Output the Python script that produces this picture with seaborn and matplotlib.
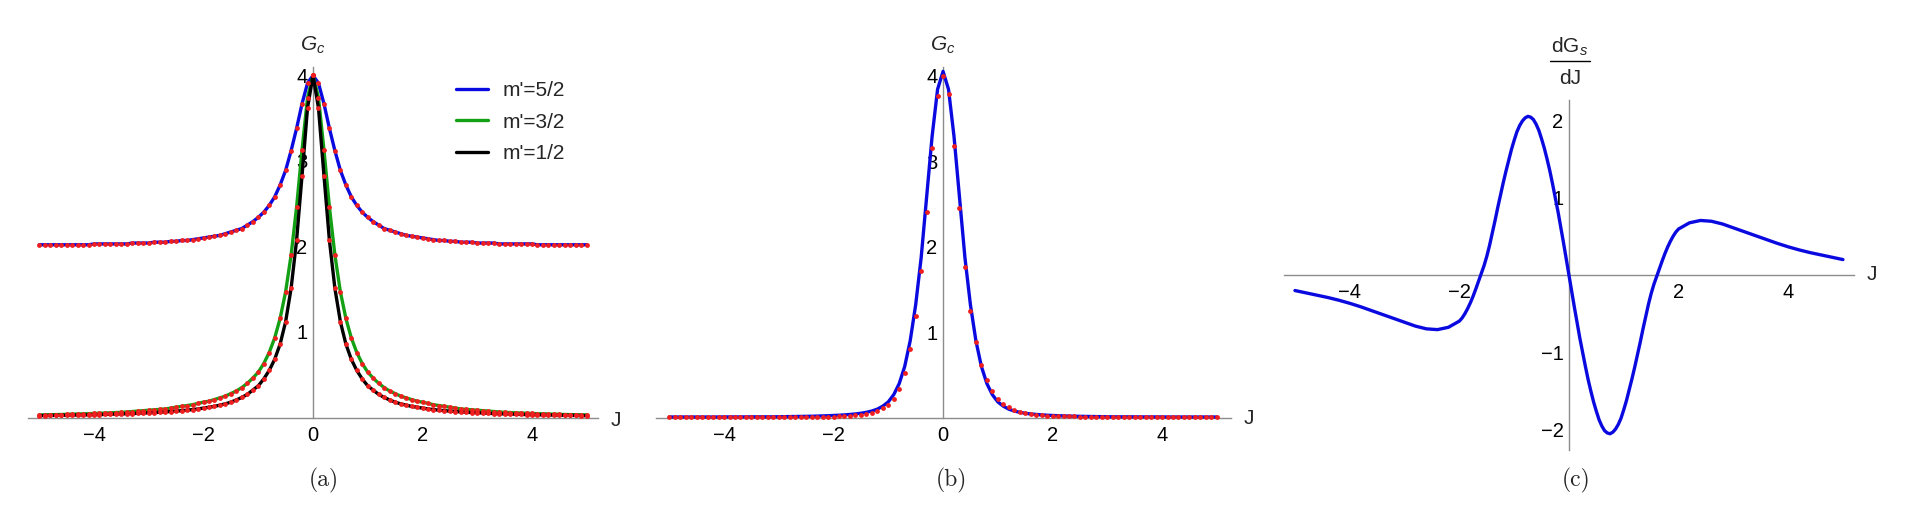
import numpy as np
import seaborn as sns
import matplotlib.pyplot as plt
from matplotlib.lines import Line2D
from matplotlib.ticker import FixedLocator, MultipleLocator

sns.set_style('white')
plt.rcParams['font.family'] = ['Liberation Sans', 'DejaVu Sans']
plt.rcParams['mathtext.fontset'] = 'custom'
plt.rcParams['mathtext.rm'] = 'Liberation Sans'
plt.rcParams['mathtext.it'] = 'Liberation Sans:italic'
plt.rcParams['mathtext.bf'] = 'Liberation Sans:bold'

# sample grid in J (step 0.1) for panels (a) and (b)
J = np.round(np.linspace(-5, 5, 101), 1)

# panel (a): G_c for three m' values (curve and red points share the values)
g_52 = [2.02, 2.02, 2.02, 2.02, 2.02, 2.02, 2.02, 2.02, 2.02, 2.02,
        2.03, 2.03, 2.03, 2.03, 2.03, 2.03, 2.03, 2.04, 2.04, 2.04,
        2.04, 2.05, 2.05, 2.05, 2.06, 2.06, 2.07, 2.07, 2.08, 2.09,
        2.10, 2.11, 2.12, 2.13, 2.15, 2.17, 2.19, 2.21, 2.25, 2.29,
        2.34, 2.40, 2.48, 2.58, 2.72, 2.89, 3.12, 3.38, 3.67, 3.91,
        4.00,
        3.91, 3.67, 3.38, 3.12, 2.89, 2.72, 2.58, 2.48, 2.40, 2.34,
        2.29, 2.25, 2.21, 2.19, 2.17, 2.15, 2.13, 2.12, 2.11, 2.10,
        2.09, 2.08, 2.07, 2.07, 2.06, 2.06, 2.05, 2.05, 2.05, 2.04,
        2.04, 2.04, 2.04, 2.03, 2.03, 2.03, 2.03, 2.03, 2.03, 2.03,
        2.02, 2.02, 2.02, 2.02, 2.02, 2.02, 2.02, 2.02, 2.02, 2.02]

g_32 = [0.03, 0.031, 0.033, 0.034, 0.035, 0.037, 0.039, 0.041, 0.043, 0.045,
        0.047, 0.05, 0.052, 0.055, 0.058, 0.06, 0.065, 0.07, 0.075, 0.08,
        0.085, 0.09, 0.095, 0.10, 0.11, 0.12, 0.13, 0.14, 0.15, 0.165,
        0.18, 0.19, 0.21, 0.23, 0.25, 0.28, 0.31, 0.35, 0.40, 0.46,
        0.53, 0.63, 0.76, 0.93, 1.16, 1.47, 1.90, 2.46, 3.13, 3.74,
        4.00,
        3.74, 3.13, 2.46, 1.90, 1.47, 1.16, 0.93, 0.76, 0.63, 0.53,
        0.46, 0.40, 0.35, 0.31, 0.28, 0.25, 0.23, 0.21, 0.19, 0.18,
        0.165, 0.15, 0.14, 0.13, 0.12, 0.11, 0.10, 0.095, 0.09, 0.085,
        0.08, 0.075, 0.07, 0.065, 0.06, 0.058, 0.055, 0.052, 0.05, 0.047,
        0.045, 0.043, 0.041, 0.039, 0.037, 0.035, 0.034, 0.033, 0.031, 0.03]

g_12 = [0.022, 0.023, 0.024, 0.025, 0.026, 0.027, 0.028, 0.029, 0.03, 0.031,
        0.033, 0.034, 0.036, 0.038, 0.04, 0.042, 0.044, 0.046, 0.049, 0.052,
        0.055, 0.058, 0.061, 0.065, 0.07, 0.075, 0.08, 0.086, 0.093, 0.10,
        0.11, 0.12, 0.13, 0.145, 0.16, 0.18, 0.205, 0.235, 0.27, 0.32,
        0.37, 0.45, 0.55, 0.68, 0.86, 1.12, 1.51, 2.07, 2.83, 3.62,
        4.00,
        3.62, 2.83, 2.07, 1.51, 1.12, 0.86, 0.68, 0.55, 0.45, 0.37,
        0.32, 0.27, 0.235, 0.205, 0.18, 0.16, 0.145, 0.13, 0.12, 0.11,
        0.10, 0.093, 0.086, 0.08, 0.075, 0.07, 0.065, 0.061, 0.058, 0.055,
        0.052, 0.049, 0.046, 0.044, 0.042, 0.04, 0.038, 0.036, 0.034, 0.033,
        0.031, 0.03, 0.029, 0.028, 0.027, 0.026, 0.025, 0.024, 0.023, 0.022]

labels_a = ["m'=5/2", "m'=3/2", "m'=1/2"]
colors_a = ['#0a0ae0', '#14a014', '#000000']

# panel (b): fitted curve and red points
gb_curve = [0.008, 0.008, 0.008, 0.008, 0.008, 0.008, 0.008, 0.008, 0.008, 0.008,
            0.009, 0.009, 0.009, 0.009, 0.009, 0.010, 0.010, 0.010, 0.010, 0.010,
            0.011, 0.012, 0.013, 0.014, 0.015, 0.016, 0.017, 0.019, 0.021, 0.023,
            0.026, 0.029, 0.033, 0.038, 0.044, 0.052, 0.063, 0.078, 0.10, 0.135,
            0.185, 0.27, 0.40, 0.60, 0.90, 1.32, 1.87, 2.58, 3.29, 3.84,
            4.05,
            3.84, 3.29, 2.58, 1.87, 1.32, 0.90, 0.60, 0.40, 0.27, 0.185,
            0.135, 0.10, 0.078, 0.063, 0.052, 0.044, 0.038, 0.033, 0.029, 0.026,
            0.023, 0.021, 0.019, 0.017, 0.016, 0.015, 0.014, 0.013, 0.012, 0.011,
            0.010, 0.010, 0.010, 0.010, 0.010, 0.009, 0.009, 0.009, 0.009, 0.009,
            0.008, 0.008, 0.008, 0.008, 0.008, 0.008, 0.008, 0.008, 0.008, 0.008]

gb_points = [0.012, 0.012, 0.012, 0.012, 0.012, 0.012, 0.012, 0.012, 0.012, 0.012,
             0.012, 0.012, 0.012, 0.012, 0.012, 0.012, 0.012, 0.012, 0.012, 0.012,
             0.012, 0.012, 0.012, 0.012, 0.012, 0.012, 0.012, 0.012, 0.012, 0.013,
             0.013, 0.015, 0.018, 0.022, 0.028, 0.035, 0.045, 0.06, 0.08, 0.11,
             0.15, 0.22, 0.34, 0.52, 0.80, 1.19, 1.72, 2.40, 3.15, 3.76,
             4.00,
             3.78, 3.18, 2.45, 1.76, 1.25, 0.88, 0.62, 0.44, 0.31, 0.22,
             0.16, 0.12, 0.09, 0.07, 0.055, 0.045, 0.037, 0.03, 0.025, 0.02,
             0.018, 0.017, 0.016, 0.015, 0.014, 0.013, 0.013, 0.012, 0.012, 0.012,
             0.012, 0.012, 0.012, 0.012, 0.012, 0.012, 0.012, 0.012, 0.012, 0.012,
             0.012, 0.012, 0.012, 0.012, 0.012, 0.012, 0.012, 0.012, 0.012, 0.012]

# panel (c): dG_s/dJ, read on a finer grid near the origin
Jc = [-5.0, -4.8, -4.6, -4.4, -4.2, -4.0, -3.8, -3.6, -3.4, -3.2,
      -3.0, -2.8, -2.6, -2.4, -2.2,
      -2.0, -1.95, -1.9, -1.85, -1.8, -1.75, -1.7, -1.65, -1.6, -1.55,
      -1.5, -1.45, -1.4, -1.35, -1.3, -1.25, -1.2, -1.15, -1.1, -1.05,
      -1.0, -0.95, -0.9, -0.85, -0.8, -0.75, -0.7, -0.65, -0.6, -0.55,
      -0.5, -0.45, -0.4, -0.35, -0.3, -0.25, -0.2, -0.15, -0.1, -0.05,
      0.0,
      0.05, 0.1, 0.15, 0.2, 0.25, 0.3, 0.35, 0.4, 0.45, 0.5,
      0.55, 0.6, 0.65, 0.7, 0.75, 0.8, 0.85, 0.9, 0.95, 1.0,
      1.05, 1.1, 1.15, 1.2, 1.25, 1.3, 1.35, 1.4, 1.45, 1.5,
      1.55, 1.6, 1.65, 1.7, 1.75, 1.8, 1.85, 1.9, 1.95, 2.0,
      2.2, 2.4, 2.6, 2.8, 3.0, 3.2, 3.4, 3.6, 3.8, 4.0,
      4.2, 4.4, 4.6, 4.8, 5.0]

dgs = [-0.20, -0.23, -0.26, -0.29, -0.325, -0.365, -0.41, -0.46, -0.51, -0.56,
       -0.61, -0.66, -0.695, -0.705, -0.675,
       -0.595, -0.555, -0.50, -0.435, -0.36, -0.275, -0.18, -0.08, 0.02, 0.12,
       0.24, 0.38, 0.54, 0.70, 0.87, 1.03, 1.19, 1.34, 1.48, 1.62,
       1.74, 1.85, 1.93, 1.99, 2.03, 2.05, 2.04, 2.01, 1.95, 1.87,
       1.76, 1.64, 1.50, 1.35, 1.18, 1.00, 0.82, 0.62, 0.42, 0.21,
       0.0,
       -0.21, -0.42, -0.62, -0.82, -1.00, -1.18, -1.35, -1.50, -1.64, -1.76,
       -1.87, -1.95, -2.01, -2.04, -2.05, -2.03, -1.99, -1.93, -1.85, -1.74,
       -1.62, -1.48, -1.34, -1.19, -1.03, -0.87, -0.70, -0.54, -0.38, -0.24,
       -0.12, -0.02, 0.08, 0.18, 0.275, 0.36, 0.435, 0.50, 0.555, 0.595,
       0.675, 0.705, 0.695, 0.66, 0.61, 0.56, 0.51, 0.46, 0.41, 0.365,
       0.325, 0.29, 0.26, 0.23, 0.20]

W, H = 1911, 527
AXIS_GRAY = '#8c8c8c'
DOT_RED = '#f01e1e'
LW = 2.4
TICK_FS = 14.5
LABEL_FS = 15


def px_axes(fig, left, bottom, width, height):
    return fig.add_axes([left / W, bottom / H, width / W, height / H])


def style_axes(ax, xlim, ylim, xticks, yticks):
    ax.set_xlim(xlim)
    ax.set_ylim(ylim)
    ax.patch.set_alpha(0)
    for s in ['top', 'right']:
        ax.spines[s].set_visible(False)
    for s in ['left', 'bottom']:
        ax.spines[s].set_position(('data', 0))
        ax.spines[s].set_color(AXIS_GRAY)
        ax.spines[s].set_linewidth(1.0)
    ax.xaxis.set_major_locator(FixedLocator(xticks))
    ax.xaxis.set_minor_locator(MultipleLocator(0.5))
    ax.yaxis.set_major_locator(FixedLocator(yticks))
    ax.yaxis.set_minor_locator(MultipleLocator(0.2))
    ax.tick_params(which='both', direction='in', color=AXIS_GRAY, width=0.8,
                   labelsize=TICK_FS, labelcolor='black')
    ax.tick_params(which='major', length=4.5)
    ax.tick_params(which='minor', length=3)
    ax.tick_params(axis='x', pad=6)
    ax.tick_params(axis='y', pad=4)
    ax.set_xlabel('')
    ax.set_ylabel('')


def fig_text(fig, x, y, s, **kw):
    fig.text(x / W, 1 - y / H, s, ha='center', va='center', **kw)


fig = plt.figure(figsize=(W / 100, H / 100), dpi=100)

# ---- (a)
ax_a = px_axes(fig, 28.3, 109.5, 569.4, 350.6)
for vals, lab, col in zip([g_52, g_32, g_12], labels_a, colors_a):
    sns.lineplot(x=J, y=vals, ax=ax_a, color=col, lw=LW, label=lab,
                 estimator=None, sort=False, zorder=3, clip_on=False)
for vals in [g_52, g_32, g_12]:
    sns.scatterplot(x=J, y=vals, ax=ax_a, color=DOT_RED, s=12, linewidth=0,
                    zorder=5, clip_on=False)
style_axes(ax_a, (-5.2, 5.2), (0, 4.1), [-4, -2, 0, 2, 4], [1, 2, 3, 4])
ax_a.legend(loc='upper left', bbox_to_anchor=(456 / W, 1 - 81 / H),
            bbox_transform=fig.transFigure, frameon=False, fontsize=LABEL_FS,
            handlelength=1.55, handletextpad=0.68, labelspacing=0.6,
            borderpad=0, borderaxespad=0)
fig_text(fig, 313, 45, '$G_c$', fontsize=LABEL_FS)
fig_text(fig, 616, 420, 'J', fontsize=LABEL_FS)
fig_text(fig, 324, 480, '(a)', fontsize=17, fontfamily='cmr10')

# ---- (b)
ax_b = px_axes(fig, 655.6, 109.3, 574.9, 350.6)
sns.lineplot(x=J, y=gb_curve, ax=ax_b, color=colors_a[0], lw=LW,
             estimator=None, sort=False, zorder=3, clip_on=False)
sns.scatterplot(x=J, y=gb_points, ax=ax_b, color=DOT_RED, s=12, linewidth=0,
                zorder=5, clip_on=False)
style_axes(ax_b, (-5.25, 5.25), (0, 4.1), [-4, -2, 0, 2, 4], [1, 2, 3, 4])
fig_text(fig, 943, 45, '$G_c$', fontsize=LABEL_FS)
fig_text(fig, 1249, 418, 'J', fontsize=LABEL_FS)
fig_text(fig, 951, 480, '(b)', fontsize=17, fontfamily='cmr10')

# ---- (c)
ax_c = px_axes(fig, 1284, 77, 569.9, 349.9)
sns.lineplot(x=Jc, y=dgs, ax=ax_c, color=colors_a[0], lw=LW,
             estimator=None, sort=False, zorder=3, clip_on=False)
style_axes(ax_c, (-5.2, 5.2), (-2.26, 2.26), [-4, -2, 2, 4], [-2, -1, 1, 2])
fig_text(fig, 1570, 47, r'$\mathrm{dG}_{s}$', fontsize=LABEL_FS)
fig.add_artist(Line2D([1550 / W, 1590 / W], [1 - 61 / H, 1 - 61 / H],
                      color='black', lw=1.0))
fig_text(fig, 1570, 79, 'dJ', fontsize=LABEL_FS)
fig_text(fig, 1872, 275, 'J', fontsize=LABEL_FS)
fig_text(fig, 1576, 480, '(c)', fontsize=17, fontfamily='cmr10')

for ax in [ax_b, ax_c]:
    if ax.get_legend() is not None:
        ax.get_legend().remove()

fig.savefig('out.png', dpi=100)
